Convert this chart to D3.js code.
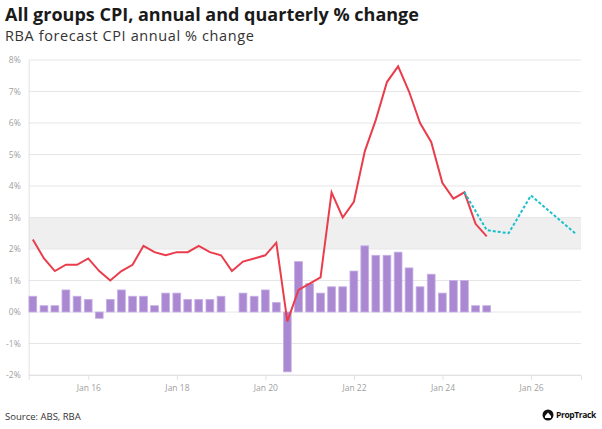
<!DOCTYPE html>
<html><head><meta charset="utf-8">
<script src="https://cdn.jsdelivr.net/npm/d3@7"></script>
<style>
body{margin:0;background:#fff;}
svg{display:block;font-family:"Open Sans",sans-serif;}
</style></head>
<body><svg id="c" width="602" height="429"></svg>
<script>
const quarters = ["2014-09-30","2014-12-31","2015-03-31","2015-06-30","2015-09-30","2015-12-31","2016-03-31","2016-06-30","2016-09-30","2016-12-31","2017-03-31","2017-06-30","2017-09-30","2017-12-31","2018-03-31","2018-06-30","2018-09-30","2018-12-31","2019-03-31","2019-06-30","2019-09-30","2019-12-31","2020-03-31","2020-06-30","2020-09-30","2020-12-31","2021-03-31","2021-06-30","2021-09-30","2021-12-31","2022-03-31","2022-06-30","2022-09-30","2022-12-31","2023-03-31","2023-06-30","2023-09-30","2023-12-31","2024-03-31","2024-06-30","2024-09-30","2024-12-31"];
const annualChange = [2.3,1.7,1.3,1.5,1.5,1.7,1.3,1.0,1.3,1.5,2.1,1.9,1.8,1.9,1.9,2.1,1.9,1.8,1.3,1.6,1.7,1.8,2.2,-0.3,0.7,0.9,1.1,3.8,3.0,3.5,5.1,6.1,7.3,7.8,7.0,6.0,5.4,4.1,3.6,3.8,2.8,2.4];
const quarterlyChange = [0.5,0.2,0.2,0.7,0.5,0.4,-0.2,0.4,0.7,0.5,0.5,0.2,0.6,0.6,0.4,0.4,0.4,0.5,0.0,0.6,0.5,0.7,0.3,-1.9,1.6,0.9,0.6,0.8,0.8,1.3,2.1,1.8,1.8,1.9,1.4,0.8,1.2,0.6,1.0,1.0,0.2,0.2];
const forecastDates = ["2024-06-30","2024-12-31","2025-06-30","2025-12-31","2026-12-31"];
const forecastValues = [3.8,2.6,2.5,3.7,2.5];
const yTicks = [-2,-1,0,1,2,3,4,5,6,7,8];
const xTickDates = ["2016-01-01","2018-01-01","2020-01-01","2022-01-01","2024-01-01","2026-01-01"];
const xTickLabels = ["Jan 16","Jan 18","Jan 20","Jan 22","Jan 24","Jan 26"];
const targetBand = [2,3];

const parse = d3.utcParse("%Y-%m-%d");
const svg = d3.select("#c");
const L = 28.7, R = 581, T = 60, B = 375;
const x = d3.scaleUtc().domain([parse("2014-08-27"), parse("2027-02-17")]).range([L, R]);
const y = d3.scaleLinear().domain([-2, 8]).range([B, T]);

// band
svg.append("rect").attr("x", L).attr("width", R - L)
  .attr("y", y(targetBand[1])).attr("height", y(targetBand[0]) - y(targetBand[1]))
  .attr("fill", "#efefef");

// gridlines
svg.append("g").selectAll("line").data(yTicks).join("line")
  .attr("x1", L).attr("x2", R).attr("y1", d => y(d)).attr("y2", d => y(d))
  .attr("stroke", "#e6e6e6").attr("stroke-width", 1);

// y axis
const yAxis = svg.append("g").attr("transform", `translate(${L},0)`)
  .call(d3.axisLeft(y).tickValues(yTicks).tickFormat(d => d + "%").tickSize(0).tickPadding(8));
yAxis.select(".domain").attr("stroke", "#e3e3e3");
yAxis.selectAll("text").attr("fill", "#a0a0a0").attr("font-size", 8.5).attr("font-family", "Open Sans");

// x axis
const xAxis = svg.append("g").attr("transform", `translate(0,${B})`)
  .call(d3.axisBottom(x).tickValues(xTickDates.map(parse)).tickFormat((d, i) => xTickLabels[i]).tickSize(5).tickPadding(5));
xAxis.select(".domain").attr("stroke", "#e3e3e3");
xAxis.selectAll("line").attr("stroke", "#e3e3e3");
xAxis.selectAll("text").attr("fill", "#a0a0a0").attr("font-size", 8.5).attr("font-family", "Open Sans");

// bars
const qd = quarters.map(parse);
const bw = (x(parse("2015-01-01")) - x(parse("2014-10-01"))) * 0.7;
svg.append("g").selectAll("rect").data(quarterlyChange).join("rect")
  .attr("x", (d, i) => x(qd[i]) - bw / 2)
  .attr("width", bw)
  .attr("y", d => y(Math.max(0, d)))
  .attr("height", d => Math.abs(y(d) - y(0)))
  .attr("fill", "#aa88d2").attr("stroke", "#c7b0e5").attr("stroke-width", 0.8);

// annual line
svg.append("path").datum(annualChange)
  .attr("d", d3.line().x((d, i) => x(qd[i])).y(d => y(d)))
  .attr("fill", "none").attr("stroke", "#ea3d4c").attr("stroke-width", 2).attr("stroke-linejoin", "miter");

// forecast line
const fd = forecastDates.map(parse);
svg.append("path").datum(forecastValues)
  .attr("d", d3.line().x((d, i) => x(fd[i])).y(d => y(d)))
  .attr("fill", "none").attr("stroke", "#19c1cb").attr("stroke-width", 2).attr("stroke-dasharray", "3,2");

// titles
svg.append("text").attr("x", 5).attr("y", 21).text("All groups CPI, annual and quarterly % change")
  .attr("font-family", "Open Sans").attr("font-weight", 700).attr("font-size", 18).attr("fill", "#1a1a1a");
svg.append("text").attr("x", 5).attr("y", 41).text("RBA forecast CPI annual % change")
  .attr("font-family", "Open Sans").attr("font-weight", 400).attr("font-size", 14.5).attr("letter-spacing", 0.6).attr("fill", "#333");

// footer
svg.append("text").attr("x", 5).attr("y", 420).text("Source: ABS, RBA")
  .attr("font-family", "Open Sans").attr("font-size", 9.5).attr("fill", "#333");
const logo = svg.append("g").attr("transform", "translate(548,415)");
logo.append("circle").attr("r", 5.5).attr("fill", "#111");
logo.append("path").attr("d", "M-3,1 L0,-2.5 L3,1 L3,3 L-3,3 Z").attr("fill", "#fff");
logo.append("text").attr("x", 8).attr("y", 3.2).text("PropTrack")
  .attr("font-family", "Open Sans").attr("font-weight", 700).attr("font-size", 8.5).attr("fill", "#111").attr("letter-spacing", -0.4);
</script></body></html>
